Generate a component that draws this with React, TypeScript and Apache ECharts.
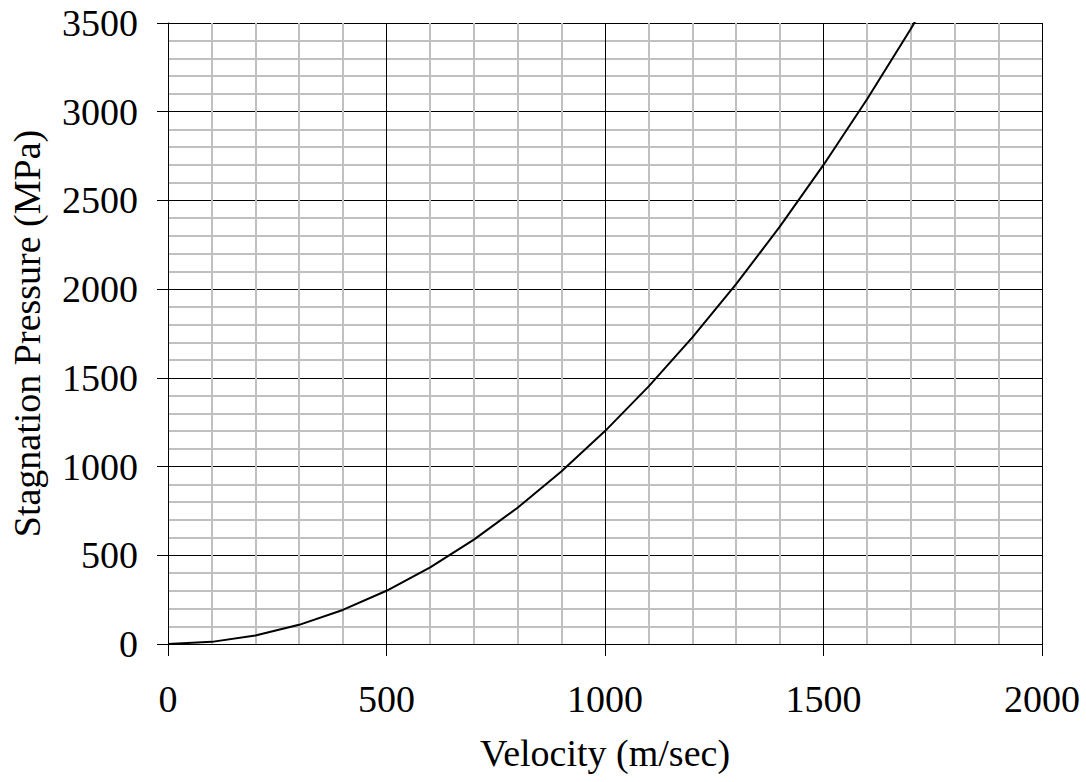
import React, { useEffect, useRef } from "react";
import * as echarts from "echarts";

const velocity = [0, 100, 200, 300, 400, 500, 600, 700, 800, 900, 1000, 1100, 1200, 1300, 1400, 1500, 1600, 1700, 1800];
const pressure = [0, 12, 48, 108, 192, 300, 432, 588, 768, 972, 1200, 1452, 1728, 2028, 2352, 2700, 3072, 3468, 3888];

const xTitle = "Velocity (m/sec)";
const yTitle = "Stagnation Pressure (MPa)";

export default function App() {
  const ref = useRef<HTMLDivElement>(null);
  useEffect(() => {
    const chart = echarts.init(ref.current!, null, { renderer: "svg" });
    const font = "'Liberation Serif', 'Times New Roman', serif";
    chart.setOption({
      animation: false,
      backgroundColor: "#ffffff",
      grid: { left: 168, right: 44, top: 23, bottom: 138, containLabel: false, outerBoundsMode: "none" },
      xAxis: {
        type: "value",
        min: 0,
        max: 2000,
        interval: 500,
        name: xTitle,
        nameLocation: "middle",
        nameGap: 90,
        nameTextStyle: { fontFamily: font, fontSize: 38, color: "#000" },
        axisLine: { show: true, lineStyle: { color: "#000", width: 1 } },
        axisTick: { show: true, inside: false, length: 12, lineStyle: { color: "#000" } },
        axisLabel: { fontFamily: font, fontSize: 38, color: "#000", margin: 36, formatter: (v: number) => String(v) },
        splitLine: { show: true, lineStyle: { color: "#000", width: 1 } },
        minorTick: { show: false, splitNumber: 5 },
        minorSplitLine: { show: true, lineStyle: { color: "#c0c0c0", width: 2 } },
      },
      yAxis: {
        type: "value",
        min: 0,
        max: 3500,
        interval: 500,
        name: yTitle,
        nameLocation: "middle",
        nameGap: 122,
        nameTextStyle: { fontFamily: font, fontSize: 38, color: "#000" },
        axisLine: { show: true, lineStyle: { color: "#000", width: 1 } },
        axisTick: { show: true, inside: false, length: 11, lineStyle: { color: "#000" } },
        axisLabel: { fontFamily: font, fontSize: 38, color: "#000", margin: 30, formatter: (v: number) => String(v) },
        splitLine: { show: true, lineStyle: { color: "#000", width: 1 } },
        minorTick: { show: false, splitNumber: 5 },
        minorSplitLine: { show: true, lineStyle: { color: "#c0c0c0", width: 2 } },
      },
      series: [
        {
          type: "line",
          data: velocity.map((v, i) => [v, pressure[i]]),
          showSymbol: false,
          symbol: "none",
          clip: true,
          lineStyle: { color: "#000", width: 2 },
        },
      ],
    });
    return () => chart.dispose();
  }, []);
  return (
    <div
      ref={ref}
      style={{ position: "fixed", left: 0, top: 0, width: 1086, height: 782, background: "#fff" }}
    />
  );
}
